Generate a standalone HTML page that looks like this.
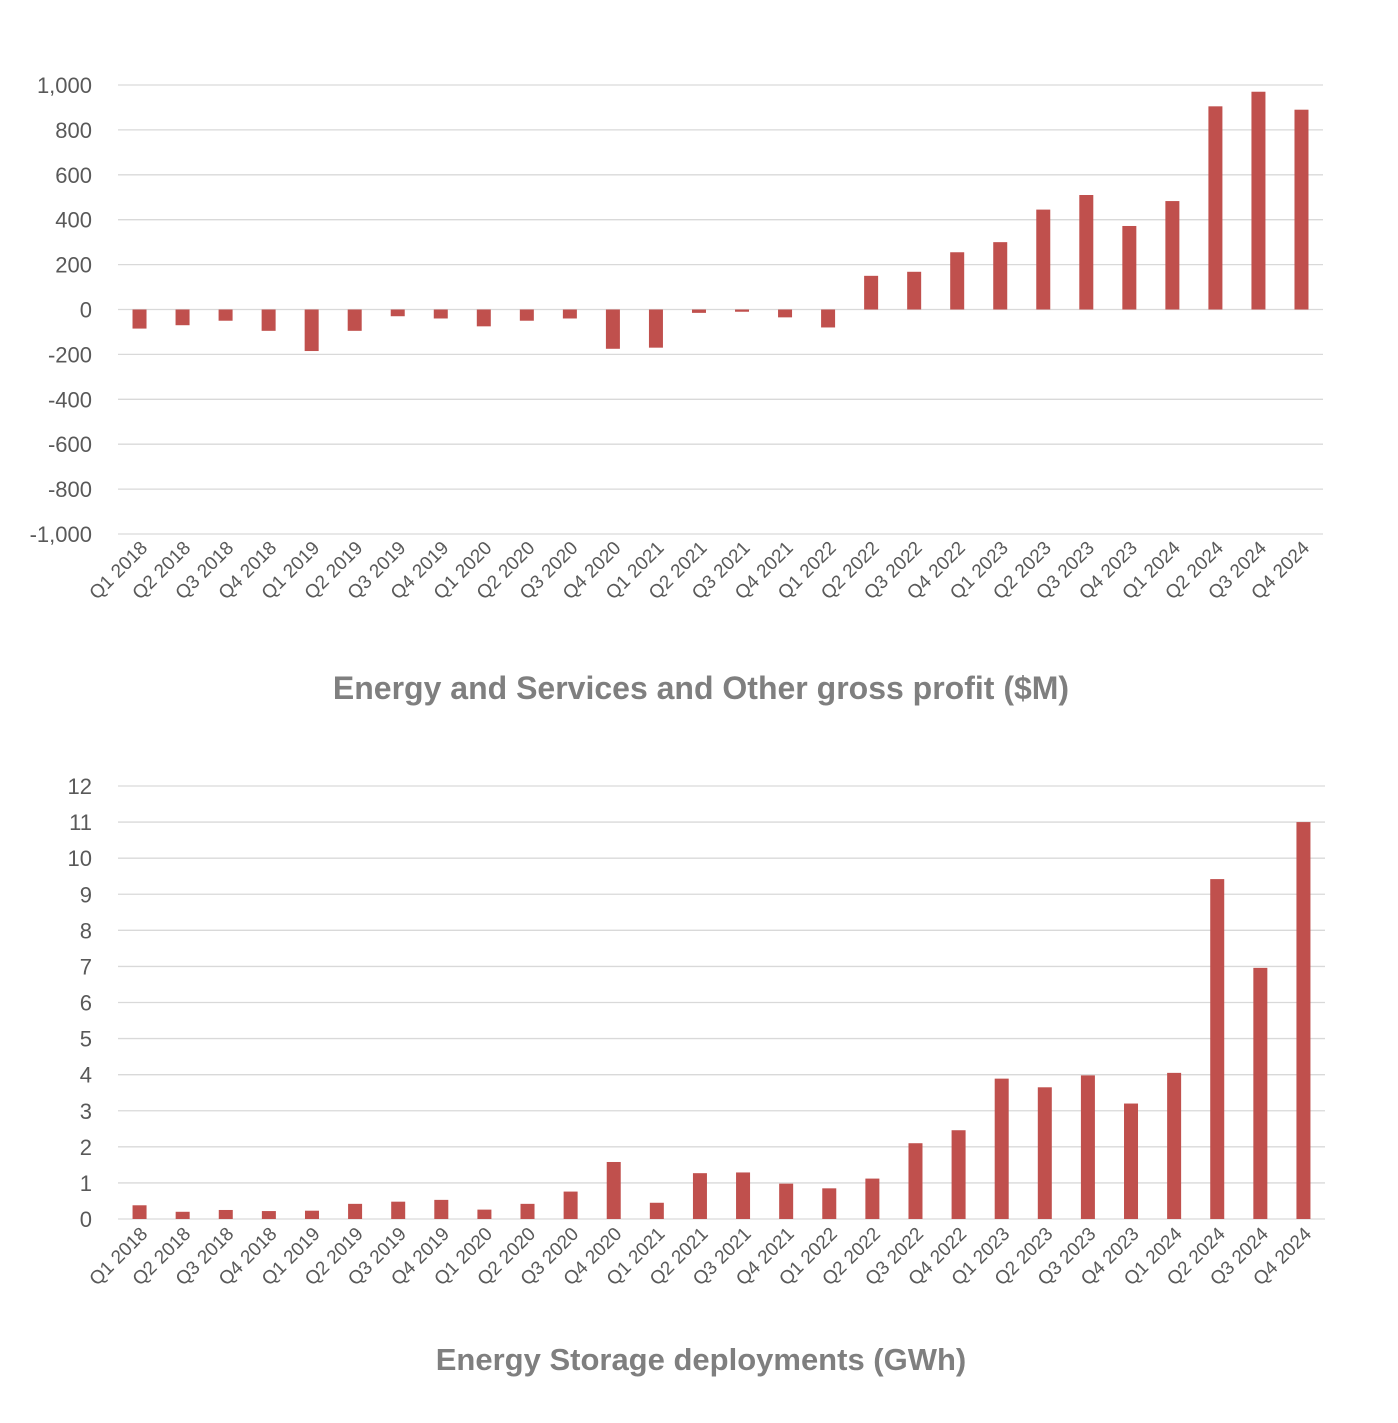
<!DOCTYPE html>
<html><head><meta charset="utf-8"><style>
body{margin:0;background:#fff;}
svg text{font-family:"Liberation Sans",sans-serif;}
</style></head><body>
<svg id="c" width="1398" height="1418"></svg>
<script>
const categories=["Q1 2018","Q2 2018","Q3 2018","Q4 2018","Q1 2019","Q2 2019","Q3 2019","Q4 2019","Q1 2020","Q2 2020","Q3 2020","Q4 2020","Q1 2021","Q2 2021","Q3 2021","Q4 2021","Q1 2022","Q2 2022","Q3 2022","Q4 2022","Q1 2023","Q2 2023","Q3 2023","Q4 2023","Q1 2024","Q2 2024","Q3 2024","Q4 2024"];
const profitValues=[-85,-70,-50,-95,-185,-95,-30,-40,-75,-50,-40,-175,-170,-15,-10,-35,-80,150,168,255,300,445,510,372,483,905,970,890];
const profitTicks=[-1000,-800,-600,-400,-200,0,200,400,600,800,1000];
const profitTickLabels=["-1,000","-800","-600","-400","-200","0","200","400","600","800","1,000"];
const storageValues=[0.38,0.2,0.25,0.22,0.23,0.42,0.48,0.53,0.26,0.42,0.76,1.58,0.45,1.27,1.29,0.98,0.85,1.12,2.1,2.46,3.89,3.65,3.98,3.2,4.05,9.42,6.96,11.0];
const storageTicks=[0,1,2,3,4,5,6,7,8,9,10,11,12];
const storageTickLabels=["0","1","2","3","4","5","6","7","8","9","10","11","12"];

const svg=document.getElementById('c');
const NS="http://www.w3.org/2000/svg";
function mk(tag,attrs,parent){const e=document.createElementNS(NS,tag);for(const k in attrs)e.setAttribute(k,attrs[k]);(parent||svg).appendChild(e);return e;}

function chart(cfg){
  const g=mk('g',{});
  
  
  const x0=cfg.x0,x1=cfg.x1,step=(x1-x0)/categories.length;
  const y=v=>cfg.yTop+(cfg.max-v)/(cfg.max-cfg.min)*(cfg.yBot-cfg.yTop);
  const xc=i=>x0+step*(i+0.5);
  cfg.ticks.forEach((t,i)=>{
    const l=mk('line',{x1:x0,x2:x1,y1:y(t),y2:y(t),stroke:'#d9d9d9','stroke-width':1.3},g);
    
    
    const tx=mk('text',{x:x0-26,y:y(t)+8,'text-anchor':'end','font-size':22,fill:'#595959'},g);
    
    
    tx.textContent=cfg.tickLabels[i];
  });
  cfg.values.forEach((v,i)=>{
    const top=Math.min(y(v),y(0)),h=Math.abs(y(v)-y(0));
    const r=mk('rect',{x:xc(i)-7,y:top,width:14,height:h,fill:'#c0504d'},g);
    
    
  });
  categories.forEach((c,i)=>{
    const tx=mk('text',{x:0,y:0,'text-anchor':'end','font-size':19,fill:'#595959',transform:`translate(${xc(i)+9},${cfg.labelY}) rotate(-45)`},g);
    
    
    tx.textContent=c;
  });
  const tt=mk('text',{x:cfg.titleX,y:cfg.titleY,'text-anchor':'middle','font-size':cfg.titleSize,'font-weight':'bold',fill:'#7f7f7f'},g);
  
  
  tt.textContent=cfg.title;
}
chart({name:'profit-chart',x0:118,x1:1323,yTop:85,yBot:534,min:-1000,max:1000,ticks:profitTicks,tickLabels:profitTickLabels,values:profitValues,labelY:549,title:'Energy and Services and Other gross profit ($M)',titleX:701,titleY:699,titleSize:32});
chart({name:'storage-chart',x0:118,x1:1325,yTop:786,yBot:1219,min:0,max:12,ticks:storageTicks,tickLabels:storageTickLabels,values:storageValues,labelY:1235,title:'Energy Storage deployments (GWh)',titleX:701,titleY:1370,titleSize:31});
</script>
</body></html>
